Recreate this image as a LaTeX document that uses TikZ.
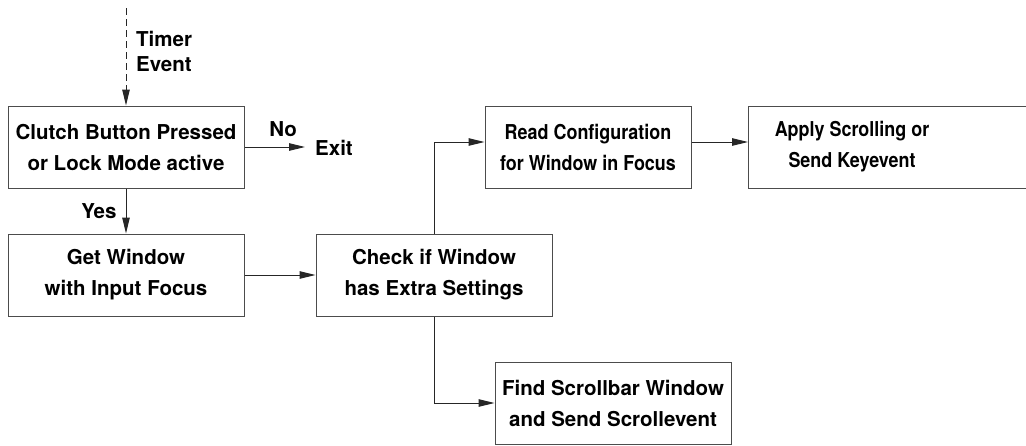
\documentclass[tikz,border=0pt]{standalone}
\usepackage{fontspec}
\setmainfont{TeX Gyre Heros}
\newfontfamily\narrowfont[FakeStretch=0.875]{TeX Gyre Heros}
\usetikzlibrary{arrows.meta,positioning}
\newcommand{\flowfont}{\bfseries\fontsize{20.5}{31}\selectfont}
\tikzset{>={Triangle[length=16pt,width=7.5pt]},
  flowbox/.style={draw=black!70,line width=1pt,align=center,
    minimum height=82pt,inner sep=0pt,font=\flowfont},
  narrow/.style={font=\narrowfont\flowfont},
  flowline/.style={->,line width=1pt,draw=black!85},
  lbl/.style={inner sep=0pt,font=\flowfont}}

\begin{document}
\begin{tikzpicture}[x=1pt,y=-1pt]
    \useasboundingbox (0,0) rectangle (1026,445);

    \node[flowbox,minimum width=236pt] (clutch) at (126,147) {Clutch Button Pressed\\or Lock Mode active};
    \node[flowbox,minimum width=236pt] (getwin) at (126,275) {Get Window\\with Input Focus};
    \node[flowbox,minimum width=236pt] (check) at (434,275) {Check if Window\\has Extra Settings};
    \node[flowbox,narrow,minimum width=206pt] (readcfg) at (588,147) {Read Configuration\\for Window in Focus};
    \node[flowbox,minimum width=284pt,anchor=west] (apply) at (748,147) {};
    \node[lbl,narrow,align=center] (applytxt) at (852,147) {Apply Scrolling or\\Send Keyevent};
    \node[flowbox,minimum width=236pt] (findsb) at (613,403) {Find Scrollbar Window\\and Send Scrollevent};

    % timer event entry
    \coordinate (timer) at (126,8);
    \node[lbl,align=left,anchor=west,font=\bfseries\fontsize{20.5}{25}\selectfont] (timertxt) at (136,51) {Timer\\Event};
    \node[lbl,anchor=west,inner xsep=10pt] (exit) at (305,148) {Exit};

    \draw[flowline,dash pattern=on 7pt off 4pt] (timer) -- (clutch);
    \draw[flowline] (clutch.east) -- node[lbl,pos=0.64,above=10pt] {No} (clutch.east -| exit.west);
    \draw[flowline] (clutch) -- node[lbl,left=9pt] {Yes} (getwin);
    \draw[flowline] (getwin) -- (check);
    \draw[flowline] (check.north) |- ([yshift=5pt]readcfg.west);
    \draw[flowline] ([yshift=5pt]readcfg.east) -- ([yshift=5pt]readcfg.east -| apply.west);
    \draw[flowline] (check.south) |- (findsb.west);
\end{tikzpicture}
\end{document}
